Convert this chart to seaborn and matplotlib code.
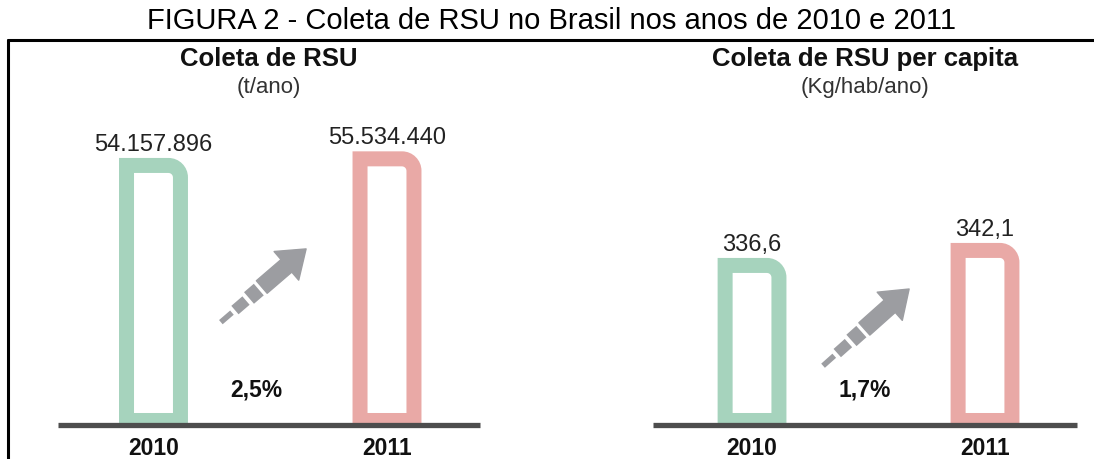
import numpy as np
import matplotlib.pyplot as plt
import seaborn as sns
from matplotlib.path import Path
from matplotlib.patches import PathPatch
from matplotlib.lines import Line2D

# Dados (Abrelpe 2010/2011)
anos = ['2010', '2011']
coleta_total = [54157896, 55534440]        # t/ano
coleta_per_capita = [336.6, 342.1]         # kg/hab/ano
rotulos_total = ['54.157.896', '55.534.440']
rotulos_per_capita = ['336,6', '342,1']
variacao = ['2,5%', '1,7%']
cores = ['#a6d3bd', '#e9a9a6']

sns.set_style('white')
plt.rcParams['font.family'] = ['Liberation Sans', 'DejaVu Sans']

fig = plt.figure(figsize=(10.94, 4.59), dpi=100)
ax1 = fig.add_axes([0.053, 0.073, 0.3857, 0.84])
ax2 = fig.add_axes([0.5969, 0.073, 0.3876, 0.84])

CINZA = '#9c9da1'


def barras_contorno(ax, lw_px=15, raio_px=12):
    # troca os retangulos do seaborn por contornos com canto superior direito arredondado
    xa0, xa1 = ax.get_xlim()
    ya0, ya1 = ax.get_ylim()
    bb = ax.get_window_extent()
    ux = (xa1 - xa0) / bb.width
    uy = (ya1 - ya0) / bb.height
    rx, ry = raio_px * ux, raio_px * uy
    k = 0.5523
    for p in list(ax.patches):
        x0 = p.get_x()
        x1 = x0 + p.get_width()
        y1 = p.get_y() + p.get_height()
        y0 = max(p.get_y(), ya0) + 5 * uy
        cor = p.get_facecolor()
        p.set_visible(False)
        verts = [(x0, y0), (x0, y1), (x1 - rx, y1),
                 (x1 - rx + k * rx, y1), (x1, y1 - ry + k * ry), (x1, y1 - ry),
                 (x1, y0), (x0, y0)]
        codes = [Path.MOVETO, Path.LINETO, Path.LINETO,
                 Path.CURVE4, Path.CURVE4, Path.CURVE4,
                 Path.LINETO, Path.CLOSEPOLY]
        ax.add_patch(PathPatch(Path(verts, codes), facecolor='white', edgecolor=cor,
                               lw=lw_px * 72 / 100, joinstyle='miter', zorder=2))


def seta(ax, cauda, ponta):
    cauda = np.array(cauda)
    ponta = np.array(ponta)
    d = ponta - cauda
    ax.annotate('', xy=tuple(ponta), xytext=tuple(cauda + 0.48 * d), xycoords='axes fraction',
                arrowprops=dict(arrowstyle='simple,head_length=1.1,head_width=1.6,tail_width=0.7',
                                color=CINZA, mutation_scale=17, shrinkA=0, shrinkB=0))
    # tracos da cauda
    for (t0, t1), lw in zip([(0.33, 0.445), (0.165, 0.295), (0.0, 0.13)], [11, 8, 4]):
        a = cauda + t0 * d
        b = cauda + t1 * d
        ax.plot([a[0], b[0]], [a[1], b[1]], color=CINZA, lw=lw, solid_capstyle='butt',
                transform=ax.transAxes, clip_on=False)


def painel(ax, valores, rotulos, ylim, xlim, titulo, unidade, pct, pct_x, cauda, ponta):
    sns.barplot(x=anos, y=valores, hue=anos, palette=cores, saturation=1, width=0.231,
                legend=False, ax=ax)
    ax.set_xlim(*xlim)
    ax.set_ylim(*ylim)
    sns.despine(ax=ax, left=True, bottom=True)
    ax.set_yticks([])
    ax.tick_params(axis='x', length=0, pad=8)
    for lab in ax.get_xticklabels():
        lab.set_fontweight('bold')
        lab.set_fontsize(16.5)
        lab.set_color('#111111')
    ax.set_xlabel('')
    ax.set_ylabel('')
    barras_contorno(ax)
    ax.axhline(ylim[0], color='#4d4d4d', lw=3.8, zorder=3, clip_on=False,
               solid_capstyle='butt')
    for i, (v, r) in enumerate(zip(valores, rotulos)):
        ax.annotate(r, xy=(i, v), xytext=(0, 15), textcoords='offset points',
                    ha='center', va='center', fontsize=17, color='#222222')
    ax.text(0.5, 0.951, titulo, transform=ax.transAxes, ha='center', va='center',
            fontsize=18.5, fontweight='bold', color='#111111')
    ax.text(0.5, 0.876, unidade, transform=ax.transAxes, ha='center', va='center',
            fontsize=16, color='#333333')
    ax.text(pct_x, 0.092, pct, transform=ax.transAxes, ha='center', va='center',
            fontsize=16.5, fontweight='bold', color='#111111')
    seta(ax, cauda, ponta)


painel(ax1, coleta_total, rotulos_total, (0, 80.3e6), (-0.409, 1.398),
       'Coleta de RSU', '(t/ano)', variacao[0], 0.469, (0.386, 0.268), (0.588, 0.458))
painel(ax2, coleta_per_capita, rotulos_per_capita, (277.9, 419.3), (-0.425, 1.395),
       'Coleta de RSU per capita', '(Kg/hab/ano)', variacao[1], 0.5, (0.401, 0.155), (0.604, 0.354))

# moldura e titulo da figura
fig.add_artist(Line2D([0.0073, 1.0], [0.913, 0.913], color='black', lw=2.2, transform=fig.transFigure))
fig.add_artist(Line2D([0.0073, 0.0073], [0.0, 0.913], color='black', lw=2.2, transform=fig.transFigure))
fig.text(0.504, 0.954, 'FIGURA 2 - Coleta de RSU no Brasil nos anos de 2010 e 2011',
         ha='center', va='center', fontsize=21, color='black')

fig.savefig('out.png', dpi=100)
